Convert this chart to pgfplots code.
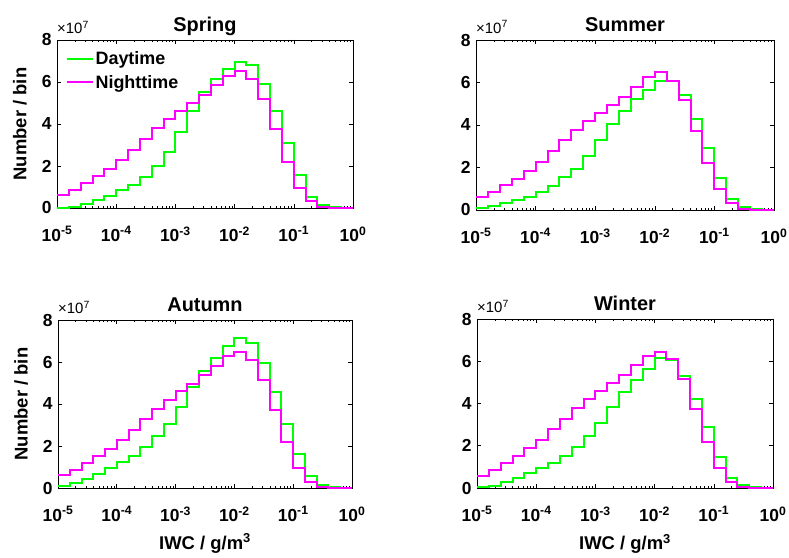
\documentclass[border=0pt]{standalone}
\usepackage{pgfplots}
\pgfplotsset{compat=1.18}
\usepackage{pgfplotstable}
\usepackage{fontspec}
\setmainfont{Liberation Sans}
\definecolor{dgreen}{rgb}{0,1,0}
\definecolor{dmag}{rgb}{1,0,1}

% values in units of 1e7 ; x = left bin edge (5 bins per decade), last row closes the final bin
\pgfplotstableread{
x         sd    sn    ud    un    ad    an    wd    wn
1e-5      0.00  0.60  0.10  0.59  0.08  0.60  0.03  0.59
1.585e-5  0.05  0.84  0.19  0.83  0.24  0.85  0.10  0.84
2.512e-5  0.20  1.19  0.31  1.17  0.43  1.19  0.28  1.18
3.981e-5  0.40  1.50  0.47  1.48  0.67  1.52  0.47  1.52
6.310e-5  0.59  1.85  0.63  1.84  0.95  1.86  0.71  1.87
1e-4      0.84  2.27  0.86  2.27  1.22  2.28  0.95  2.28
1.585e-4  1.11  2.77  1.14  2.77  1.54  2.78  1.18  2.78
2.512e-4  1.47  3.28  1.56  3.28  1.93  3.28  1.50  3.27
3.981e-4  1.98  3.80  1.95  3.78  2.46  3.78  1.94  3.77
6.310e-4  2.65  4.23  2.55  4.19  3.04  4.20  2.44  4.20
1e-3      3.60  4.60  3.28  4.58  3.88  4.60  3.08  4.59
1.585e-3  4.63  4.99  4.03  4.95  4.80  4.97  3.83  4.95
2.512e-3  5.50  5.39  4.64  5.34  5.59  5.36  4.54  5.35
3.981e-3  6.13  5.85  5.20  5.78  6.21  5.82  5.13  5.80
6.310e-3  6.64  6.29  5.66  6.25  6.76  6.28  5.63  6.27
1e-2      6.97  6.50  6.09  6.48  7.13  6.46  6.15  6.46
1.585e-2  6.80  6.13  6.09  6.09  6.89  6.10  6.07  6.10
2.512e-2  5.91  5.20  5.39  5.19  5.94  5.15  5.32  5.15
3.981e-2  4.61  3.76  4.30  3.72  4.56  3.73  4.21  3.72
6.310e-2  3.09  2.17  2.92  2.19  3.06  2.20  2.87  2.20
1e-1      1.58  0.95  1.52  0.97  1.62  0.97  1.45  0.97
0.1585    0.52  0.32  0.50  0.31  0.55  0.30  0.47  0.30
0.2512    0.13  0.05  0.13  0.05  0.16  0.05  0.13  0.05
0.3981    0.03  0.02  0.03  0.02  0.05  0.02  0.05  0.02
0.6310    0.01  0.01  0.01  0.01  0.01  0.01  0.01  0.01
1         0.01  0.01  0.01  0.01  0.01  0.01  0.01  0.01
}\data

\pgfplotsset{
  every axis/.append style={
    scale only axis, clip=false,
    xmin=1e-5, xmax=1, ymin=0, ymax=8,
    xtick={1e-5,1e-4,1e-3,1e-2,1e-1,1},
    xticklabels={10\textsuperscript{-5},10\textsuperscript{-4},10\textsuperscript{-3},10\textsuperscript{-2},10\textsuperscript{-1},10\textsuperscript{0}},
    ytick={0,2,4,6,8},
    yticklabels={0,2,4,6,8},
    tick align=inside,
    major tick length=4bp, minor tick length=2.2bp,
    axis line style={line width=0.7bp},
    every tick/.style={black, line width=0.6bp},
    tick label style={font=\fontsize{17.5}{19}\selectfont\bfseries},
    xticklabel style={yshift=-15bp},
    yticklabel style={xshift=-2bp},
    title style={at={(0.5,1)}, anchor=base, yshift=3bp, font=\fontsize{20}{22}\selectfont\bfseries},
    every axis plot/.append style={line width=2bp},
  },
  every axis y label/.style={at={(axis description cs:-0.125,0.5)}, rotate=90, anchor=center, font=\fontsize{18.5}{21}\selectfont\bfseries},
  every axis x label/.style={at={(axis description cs:0.5,-0.33)}, anchor=center, font=\fontsize{18.5}{21}\selectfont\bfseries},
}

\newcommand{\expo}{\node[anchor=base west, font=\fontsize{15}{17}\selectfont, inner sep=0pt] at (rel axis cs:0,1.04) {×10\textsuperscript{7}};}

\begin{document}
\begin{tikzpicture}
\path[use as bounding box] (0bp,0bp) rectangle (789bp,558bp);

\begin{semilogxaxis}[anchor=south west, at={(57bp,350bp)}, width=296bp, height=168bp,
  title={Spring}, ylabel={Number / bin},
  legend style={draw=none, fill=none, at={(0.025,0.95)}, anchor=north west,
    font=\fontsize{18}{20}\selectfont\bfseries, row sep=5bp, inner sep=1bp},
  legend cell align=left,
  legend image code/.code={\draw[#1] (0bp,0bp) -- (26bp,0bp);}]
\addplot[dgreen, const plot] table[x=x, y=sd] {\data};
\addlegendentry{Daytime}
\addplot[dmag, const plot] table[x=x, y=sn] {\data};
\addlegendentry{Nighttime}
\expo
\end{semilogxaxis}

\begin{semilogxaxis}[anchor=south west, at={(476bp,348bp)}, width=298bp, height=170bp,
  title={Summer}]
\addplot[dgreen, const plot] table[x=x, y=ud] {\data};
\addplot[dmag, const plot] table[x=x, y=un] {\data};
\expo
\end{semilogxaxis}

\begin{semilogxaxis}[anchor=south west, at={(58bp,70bp)}, width=294bp, height=168bp,
  title={Autumn}, ylabel={Number / bin}, xlabel={IWC / g/m\textsuperscript{3}}]
\addplot[dgreen, const plot] table[x=x, y=ad] {\data};
\addplot[dmag, const plot] table[x=x, y=an] {\data};
\expo
\end{semilogxaxis}

\begin{semilogxaxis}[anchor=south west, at={(477bp,70bp)}, width=296bp, height=169bp,
  title={Winter}, xlabel={IWC / g/m\textsuperscript{3}}]
\addplot[dgreen, const plot] table[x=x, y=wd] {\data};
\addplot[dmag, const plot] table[x=x, y=wn] {\data};
\expo
\end{semilogxaxis}
\end{tikzpicture}
\end{document}
